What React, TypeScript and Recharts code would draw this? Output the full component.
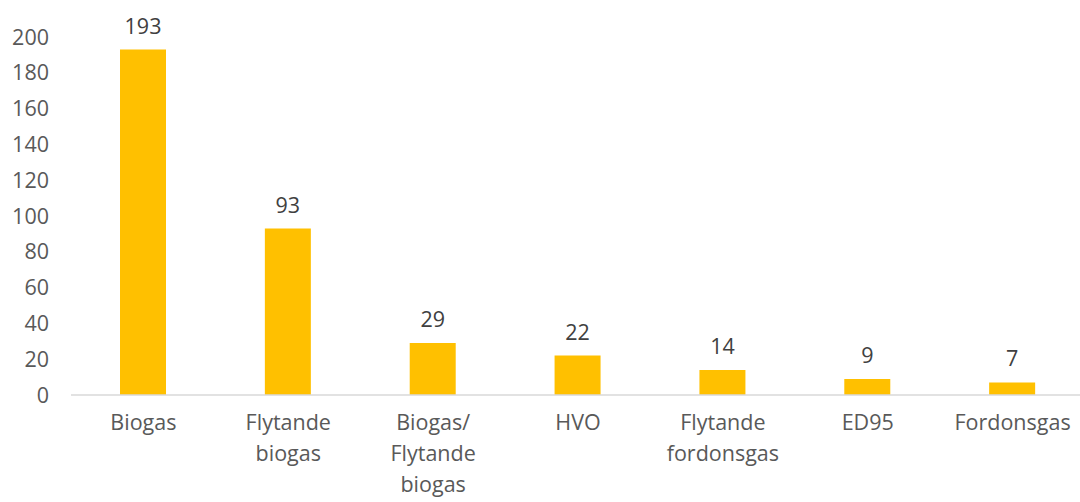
import { BarChart, Bar, XAxis, YAxis, LabelList } from "recharts"

const fuels = [
  "Biogas",
  "Flytande\nbiogas",
  "Biogas/\nFlytande\nbiogas",
  "HVO",
  "Flytande\nfordonsgas",
  "ED95",
  "Fordonsgas",
]
const counts = [193, 93, 29, 22, 14, 9, 7]
const yTicks = [0, 20, 40, 60, 80, 100, 120, 140, 160, 180, 200]

const data = fuels.map((name, i) => ({ name, count: counts[i] }))

const FONT = "'Open Sans', sans-serif"
const GREY = "#595959"

function CategoryTick({ x, y, payload }: any) {
  const lines = String(payload.value).split("\n")
  return (
    <text x={x} y={y} textAnchor="middle" fill={GREY} fontSize={21.5} fontFamily={FONT}>
      {lines.map((l, i) => (
        <tspan key={i} x={x} dy={i === 0 ? 35 : 31}>{l}</tspan>
      ))}
    </text>
  )
}

export default function App() {
  return (
    <div style={{ position: "absolute", left: 0, top: 0, width: 1080, height: 502, background: "#fff", overflow: "hidden" }}>
      <BarChart width={1085} height={502} data={data}
        margin={{ top: 37, right: 0, bottom: 0, left: 1 }}>
        <XAxis dataKey="name" interval={0} height={107}
          axisLine={{ stroke: "#d9d9d9", strokeWidth: 1.5 }} tickLine={false}
          tickSize={0} tickMargin={0} tick={<CategoryTick />} />
        <YAxis width={70} domain={[0, 200]} ticks={yTicks} interval={0}
          axisLine={false} tickLine={false} tickSize={0} tickMargin={22}
          tick={{ fontSize: 21.5, fill: GREY, fontFamily: FONT }} />
        <Bar dataKey="count" fill="#ffc000" barSize={46} isAnimationActive={false}>
          <LabelList dataKey="count" position="top" offset={16}
            style={{ fontSize: 21.5, fill: "#404040", fontFamily: FONT }} />
        </Bar>
      </BarChart>
    </div>
  )
}
